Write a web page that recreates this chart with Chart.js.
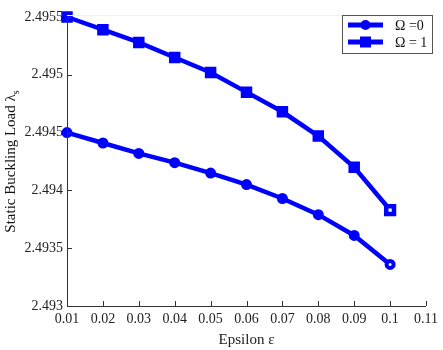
<!DOCTYPE html>
<html>
<head>
<meta charset="utf-8">
<script src="https://cdn.jsdelivr.net/npm/chart.js@4/dist/chart.umd.min.js"></script>
<style>
  html, body { margin: 0; padding: 0; background: #ffffff; }
  #wrap { width: 443px; height: 350px; }
</style>
</head>
<body>
<div id="wrap"><canvas id="c" width="443" height="350"></canvas></div>
<script>
// ---- data ----
const epsilon = [0.01, 0.02, 0.03, 0.04, 0.05, 0.06, 0.07, 0.08, 0.09, 0.1];
const omega0 = [2.4945, 2.49441, 2.49432, 2.49424, 2.49415, 2.49405, 2.49393, 2.49379, 2.49361, 2.49336];
const omega1 = [2.4955, 2.49539, 2.49528, 2.49515, 2.49502, 2.49485, 2.49468, 2.49447, 2.4942, 2.49383];
const seriesNames = ['\u03A9 =0', '\u03A9 = 1'];
const xTickLabels = ['0.01','0.02','0.03','0.04','0.05','0.06','0.07','0.08','0.09','0.1','0.11'];
const yTickLabels = ['2.493','2.4935','2.494','2.4945','2.495','2.4955'];
const xTitle = 'Epsilon \u03B5';
const yTitleMain = 'Static Buckling Load \u03BB';
const yTitleSub = 's';

const BLUE = '#0000ff';
const SERIF = '"Liberation Serif", "Times New Roman", serif';

function pts(ys) { return epsilon.map((x, i) => ({x: x, y: ys[i]})); }
function lastWhite(n) { const a = []; for (let i = 0; i < n; i++) a.push(i === n - 1 ? '#ffffff' : BLUE); return a; }
function lastVal(n, normal, last) { const a = []; for (let i = 0; i < n; i++) a.push(i === n - 1 ? last : normal); return a; }

const decorPlugin = {
  id: 'decor',
  afterDraw(chart) {
    const ctx = chart.ctx;
    const xs = chart.scales.x, ys = chart.scales.y;
    const ca = chart.chartArea;
    ctx.save();
    // faint top line
    ctx.strokeStyle = '#eef0f8';
    ctx.lineWidth = 1;
    ctx.beginPath(); ctx.moveTo(ca.left, 15.5); ctx.lineTo(ca.right, 15.5); ctx.stroke();
    // axis lines
    ctx.strokeStyle = '#333333';
    ctx.beginPath();
    ctx.moveTo(ca.left + 0.5, ca.top); ctx.lineTo(ca.left + 0.5, ca.bottom + 0.5);
    ctx.lineTo(ca.right, ca.bottom + 0.5);
    ctx.stroke();
    // inward ticks
    ctx.beginPath();
    xs.ticks.forEach(t => {
      const px = Math.round(xs.getPixelForValue(t.value)) + 0.5;
      ctx.moveTo(px, ca.bottom); ctx.lineTo(px, ca.bottom - 5);
    });
    ys.ticks.forEach(t => {
      const py = Math.round(ys.getPixelForValue(t.value)) + 0.5;
      ctx.moveTo(ca.left, py); ctx.lineTo(ca.left + 5, py);
    });
    ctx.stroke();
    // y title with subscript
    ctx.fillStyle = '#111111';
    ctx.font = '15px ' + SERIF;
    ctx.translate(11, (ca.top + ca.bottom) / 2);
    ctx.rotate(-Math.PI / 2);
    const wMain = ctx.measureText(yTitleMain).width;
    ctx.font = '10px ' + SERIF;
    const wSub = ctx.measureText(yTitleSub).width;
    const start = -(wMain + wSub) / 2;
    ctx.font = '15px ' + SERIF;
    ctx.textBaseline = 'middle';
    ctx.textAlign = 'left';
    ctx.fillText(yTitleMain, start, 0);
    ctx.font = '10px ' + SERIF;
    ctx.fillText(yTitleSub, start + wMain, 5);
    ctx.restore();

    // legend
    ctx.save();
    const bx = 342, by = 15, bw = 90, bh = 38;
    ctx.fillStyle = '#ffffff';
    ctx.fillRect(bx, by, bw, bh);
    ctx.strokeStyle = '#555555';
    ctx.lineWidth = 1;
    ctx.strokeRect(bx + 0.5, by + 0.5, bw, bh);
    const rows = [25, 42];
    rows.forEach((ry, i) => {
      ctx.strokeStyle = BLUE;
      ctx.lineWidth = 5;
      ctx.beginPath(); ctx.moveTo(348, ry); ctx.lineTo(383, ry); ctx.stroke();
      ctx.fillStyle = BLUE;
      if (i === 0) {
        ctx.beginPath(); ctx.arc(365.5, ry, 5, 0, Math.PI * 2); ctx.fill();
      } else {
        ctx.fillRect(360, ry - 5.5, 11, 11);
      }
      ctx.fillStyle = '#111111';
      ctx.font = '14px ' + SERIF;
      ctx.textBaseline = 'middle';
      ctx.textAlign = 'left';
      ctx.fillText(seriesNames[i], 395, ry + 1);
    });
    ctx.restore();
  }
};

new Chart(document.getElementById('c'), {
  type: 'line',
  data: {
    datasets: [
      {
        label: seriesNames[0],
        data: pts(omega0),
        borderColor: BLUE,
        backgroundColor: BLUE,
        borderWidth: 4.5,
        pointStyle: 'circle',
        pointRadius: lastVal(omega0.length, 4, 3.5),
        pointBorderWidth: lastVal(omega0.length, 3, 4),
        pointBorderColor: BLUE,
        pointBackgroundColor: lastWhite(omega0.length),
        tension: 0,
        clip: false
      },
      {
        label: seriesNames[1],
        data: pts(omega1),
        borderColor: BLUE,
        backgroundColor: BLUE,
        borderWidth: 4.5,
        pointStyle: 'rect',
        pointRadius: lastVal(omega1.length, 6, 5.5),
        pointBorderWidth: lastVal(omega1.length, 3, 4.5),
        pointBorderColor: BLUE,
        pointBackgroundColor: lastWhite(omega1.length),
        tension: 0,
        clip: false
      }
    ]
  },
  options: {
    responsive: false,
    animation: false,
    devicePixelRatio: 1,
    layout: { padding: { top: 17, right: 9, left: 0, bottom: 0 } },
    plugins: { legend: { display: false }, tooltip: { enabled: false } },
    scales: {
      x: {
        type: 'linear',
        min: 0.01, max: 0.11,
        border: { display: false },
        grid: { display: false, drawTicks: false },
        afterBuildTicks(scale) {
          scale.ticks = xTickLabels.map(v => ({ value: parseFloat(v) }));
        },
        afterFit(scale) { scale.height = 44; },
        ticks: {
          padding: 5,
          color: '#222222',
          font: { family: SERIF, size: 14 },
          maxRotation: 0,
          autoSkip: false,
          callback(value, index) { return xTickLabels[index]; }
        },
        title: {
          display: true,
          text: xTitle,
          color: '#222222',
          font: { family: SERIF, size: 15 },
          padding: { top: 0, bottom: 1 }
        }
      },
      y: {
        type: 'linear',
        min: 2.493, max: 2.4955,
        border: { display: false },
        grid: { display: false, drawTicks: false },
        afterBuildTicks(scale) {
          scale.ticks = yTickLabels.map(v => ({ value: parseFloat(v) }));
        },
        afterFit(scale) { scale.width = 67; },
        ticks: {
          padding: 4,
          color: '#222222',
          font: { family: SERIF, size: 14 },
          autoSkip: false,
          callback(value, index) { return yTickLabels[index]; }
        }
      }
    }
  },
  plugins: [decorPlugin]
});
</script>
</body>
</html>
